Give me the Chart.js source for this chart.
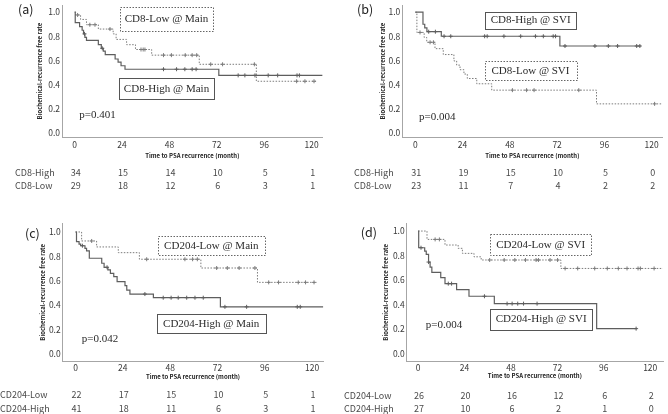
<!DOCTYPE html>
<html><head><meta charset="utf-8">
<script src="https://cdn.jsdelivr.net/npm/chart.js@4.4.1/dist/chart.umd.min.js"></script>
<style>
html,body{margin:0;padding:0;background:#fff;}
#wrap{position:relative;width:668px;height:414px;overflow:hidden;background:#fff;}
canvas{position:absolute;}
</style></head><body>
<div id="wrap">
<canvas id="ca" width="334" height="207" style="left:0;top:0"></canvas>
<canvas id="cb" width="334" height="207" style="left:334px;top:0"></canvas>
<canvas id="cc" width="334" height="207" style="left:0;top:207px"></canvas>
<canvas id="cd" width="334" height="207" style="left:334px;top:207px"></canvas>
</div>
<script>
// ---------- shared tick labels ----------
const xTicks = [0, 24, 48, 72, 96, 120];
const yTicks = [0, 0.2, 0.4, 0.6, 0.8, 1.0];
const xTitle = 'Time to PSA recurrence (month)';
const yTitle = 'Biochemical-recurrence free rate';

// ---------- panel (a) ----------
const aHighT = [0, 0.3, 2.5, 3.8, 4.5, 5.2, 6, 12, 13.5, 14.5, 15.5, 20.5, 22, 23.5, 25.5, 73, 125.5];
const aHighS = [1.0, 0.914, 0.88, 0.85, 0.82, 0.79, 0.766, 0.73, 0.70, 0.676, 0.648, 0.611, 0.585, 0.555, 0.526, 0.475, 0.475];
const aHighC = [5, 14, 45, 51.6, 55.8, 59.5, 61.5, 82.8, 86.2, 91.3, 98, 102.8, 112.6, 113.8];
const aLowT = [0, 0.5, 3, 6, 12, 19.5, 21, 26.3, 30.8, 39, 63.1, 92, 123];
const aLowS = [1.0, 0.977, 0.94, 0.896, 0.86, 0.82, 0.774, 0.73, 0.69, 0.643, 0.567, 0.426, 0.426];
const aLowC = [1.5, 7.7, 10.3, 17.9, 33.6, 34.7, 35.6, 45, 49, 56, 59.5, 61.8, 68.9, 74.9, 91, 112.4, 116.6, 121.2];
const aRiskNames = ['CD8-High', 'CD8-Low'];
const aRiskHigh = [34, 15, 14, 10, 5, 1];
const aRiskLow = [29, 18, 12, 6, 3, 1];

// ---------- panel (b) ----------
const bHighT = [0, 3.9, 4.8, 5.9, 13.2, 73.4, 114.5];
const bHighS = [1.0, 0.90, 0.87, 0.838, 0.80, 0.719, 0.719];
const bHighC = [6.8, 10.2, 14.6, 18, 35.2, 36.5, 45, 53.5, 61, 65, 70, 71.2, 76, 91.2, 98, 102.7, 112.4, 114];
const bLowT = [0, 0.8, 4.5, 5.8, 10, 14.2, 19.6, 21, 22.7, 24.7, 26.4, 31.2, 38.8, 92, 125.5];
const bLowS = [1.0, 0.832, 0.79, 0.75, 0.697, 0.648, 0.595, 0.56, 0.522, 0.486, 0.449, 0.405, 0.352, 0.238, 0.238];
const bLowC = [2.4, 7.5, 9.2, 49.3, 56.5, 60.3, 83, 121.5];
const bRiskNames = ['CD8-High', 'CD8-Low'];
const bRiskHigh = [31, 19, 15, 10, 5, 0];
const bRiskLow = [23, 11, 7, 4, 2, 2];

// ---------- panel (c) ----------
const cHighT = [0, 0.5, 1.8, 2.6, 4.8, 5.6, 7, 13.3, 14.5, 16.4, 17.7, 19.4, 21.1, 25.1, 26, 27.6, 39.5, 73.5, 125.7];
const cHighS = [1.0, 0.92, 0.90, 0.887, 0.866, 0.844, 0.784, 0.743, 0.71, 0.688, 0.66, 0.633, 0.592, 0.559, 0.523, 0.49, 0.46, 0.385, 0.385];
const cHighC = [3.5, 16, 35.2, 44.5, 48.5, 52.1, 56.4, 60.6, 64.8, 75.8, 86.8, 112.5, 114];
const cLowT = [0, 3.1, 10.7, 21.7, 32.4, 63.6, 92.3, 122.3];
const cLowS = [1.0, 0.926, 0.877, 0.83, 0.776, 0.704, 0.586, 0.586];
const cLowC = [8.2, 36.1, 55.5, 59.4, 61.8, 71.6, 77, 83, 91, 98, 103, 113, 116.7, 121];
const cRiskNames = ['CD204-Low', 'CD204-High'];
const cRiskLow = [22, 17, 15, 10, 5, 1];
const cRiskHigh = [41, 18, 11, 6, 3, 1];

// ---------- panel (d) ----------
const dHighT = [0, 0.3, 3.4, 4.2, 5.4, 6.2, 7.1, 11.7, 13.9, 19.9, 26.3, 39.4, 92.3, 113];
const dHighS = [1.0, 0.864, 0.837, 0.81, 0.747, 0.706, 0.663, 0.62, 0.571, 0.522, 0.468, 0.408, 0.204, 0.204];
const dHighC = [1.5, 5.4, 15.6, 17.3, 34.3, 46, 48.6, 51.5, 54.5, 61.5, 112.7];
const dLowT = [0, 4.6, 13.9, 20.7, 22.9, 28.9, 32.6, 73.8, 126.5];
const dLowS = [1.0, 0.932, 0.886, 0.859, 0.818, 0.79, 0.764, 0.695, 0.695];
const dLowC = [8.8, 11, 37, 44.5, 50, 55.5, 61, 62.2, 68.2, 72.1, 76, 82.5, 91.3, 97.8, 103.5, 108, 113.7, 114.9, 122];
const dRiskNames = ['CD204-Low', 'CD204-High'];
const dRiskLow = [26, 20, 16, 12, 6, 2];
const dRiskHigh = [27, 10, 6, 2, 1, 0];

// ---------- styling ----------
const SANS = "'Noto Sans CJK JP', 'Noto Sans', sans-serif";
const SERIF = "'Liberation Serif', 'DejaVu Serif', serif";
const SOLID = '#5e5e5e';
const DOT = '#7c7c7c';
const AXIS = '#a6a6a6';
const TXT = '#3a3a3a';

function stepPts(T, S) { return T.map((t, i) => ({x: t, y: S[i]})); }
function censPts(T, S, C) {
  return C.map(c => { let v = S[0]; for (let i = 0; i < T.length; i++) { if (T[i] <= c) v = S[i]; } return {x: c, y: v}; });
}

const panels = [
  {id: 'ca', label: '(a)', labelPos: [18, 9], area: {l: 62, t: 2, r: 322.7, b: 137.3},
   xr: [-6.4, 125.6], yr: [-0.04, 1.06], yTitleX: 40, xTitleY: 155.7,
   solid: [aHighT, aHighS, aHighC], dot: [aLowT, aLowS, aLowC],
   boxes: [{text: 'CD8-Low @ Main', x: 120, y: 6.7, w: 93, h: 24, dashed: true},
           {text: 'CD8-High @ Main', x: 119, y: 77.7, w: 95, h: 21.3, dashed: false}],
   p: {text: 'p=0.401', x: 79.3, y: 115},
   riskX: 15, rows: [[aRiskNames[0], aRiskHigh, 172.3], [aRiskNames[1], aRiskLow, 185.3]]},
  {id: 'cb', label: '(b)', labelPos: [23, 9], area: {l: 68.3, t: 2, r: 328.3, b: 137.3},
   xr: [-6.6, 125.4], yr: [-0.04, 1.06], yTitleX: 48.3, xTitleY: 155.7,
   solid: [bHighT, bHighS, bHighC], dot: [bLowT, bLowS, bLowC],
   boxes: [{text: 'CD8-High @ SVI', x: 151, y: 11.7, w: 91.3, h: 16.7, dashed: false},
           {text: 'CD8-Low @ SVI', x: 150.7, y: 60.7, w: 91.6, h: 19.3, dashed: true}],
   p: {text: 'p=0.004', x: 85, y: 116.7},
   riskX: 20, rows: [[bRiskNames[0], bRiskHigh, 172.3], [bRiskNames[1], bRiskLow, 185.3]]},
  {id: 'cc', label: '(c)', labelPos: [25, 26.7], area: {l: 62.7, t: 16.7, r: 323.3, b: 154},
   xr: [-6.5, 125.7], yr: [-0.06, 1.068], yTitleX: 42.7, xTitleY: 169.5,
   solid: [cHighT, cHighS, cHighC], dot: [cLowT, cLowS, cLowC],
   boxes: [{text: 'CD204-Low @ Main', x: 157.7, y: 29.3, w: 107.3, h: 19, dashed: true},
           {text: 'CD204-High @ Main', x: 156.7, y: 106.7, w: 109, h: 19.3, dashed: false}],
   p: {text: 'p=0.042', x: 81.7, y: 131.7},
   riskX: 0, rows: [[cRiskNames[0], cRiskLow, 187.7], [cRiskNames[1], cRiskHigh, 201.7]]},
  {id: 'cd', label: '(d)', labelPos: [26.7, 25], area: {l: 72.7, t: 16.7, r: 333, b: 154},
   xr: [-5.9, 126.6], yr: [-0.06, 1.06], yTitleX: 51.7, xTitleY: 169,
   solid: [dHighT, dHighS, dHighC], dot: [dLowT, dLowS, dLowC],
   boxes: [{text: 'CD204-Low @ SVI', x: 156, y: 26.7, w: 101.3, h: 21, dashed: true},
           {text: 'CD204-High @ SVI', x: 156, y: 101.7, w: 102.3, h: 20.6, dashed: false}],
   p: {text: 'p=0.004', x: 91.7, y: 118.3},
   riskX: 10, rows: [[dRiskNames[0], dRiskLow, 188.3], [dRiskNames[1], dRiskHigh, 201.7]]}
];

function textPlugin(cfg) {
  return {
    id: 'panelText',
    afterDraw(chart) {
      const c = chart.ctx;
      const xs = chart.scales.x;
      c.save();
      // panel label
      c.fillStyle = '#222';
      c.font = '12.5px ' + SANS;
      c.textAlign = 'left';
      c.textBaseline = 'middle';
      c.fillText(cfg.label, cfg.labelPos[0], cfg.labelPos[1]);
      // annotation boxes
      for (const b of cfg.boxes) {
        c.fillStyle = '#fff';
        c.fillRect(b.x, b.y, b.w, b.h);
        c.strokeStyle = b.dashed ? '#666' : '#555';
        c.lineWidth = 1;
        c.setLineDash(b.dashed ? [1.5, 1.5] : []);
        c.strokeRect(Math.round(b.x) + 0.5, Math.round(b.y) + 0.5, Math.round(b.w), Math.round(b.h));
        c.setLineDash([]);
        c.fillStyle = '#2a2a2a';
        c.font = '11px ' + SERIF;
        c.textAlign = 'center';
        c.textBaseline = 'middle';
        c.fillText(b.text, b.x + b.w / 2, b.y + b.h / 2 + 0.5);
      }
      // p value
      c.fillStyle = '#2a2a2a';
      c.font = '11px ' + SERIF;
      c.textAlign = 'left';
      c.fillText(cfg.p.text, cfg.p.x, cfg.p.y);
      // number-at-risk table
      c.fillStyle = '#4a4a4a';
      c.font = '9px ' + SANS;
      for (const row of cfg.rows) {
        c.textAlign = 'left';
        c.fillText(row[0], cfg.riskX, row[2]);
        c.textAlign = 'center';
        row[1].forEach((n, i) => c.fillText(String(n), xs.getPixelForValue(xTicks[i]) + 1, row[2]));
      }
      c.restore();
    }
  };
}

for (const cfg of panels) {
  const W = 334, H = 207, A = cfg.area;
  const hX = cfg.xTitleY - A.b + 3.6;
  new Chart(document.getElementById(cfg.id), {
    type: 'line',
    data: {
      datasets: [
        {data: stepPts(cfg.solid[0], cfg.solid[1]), borderColor: SOLID, borderWidth: 1.2, stepped: true, pointRadius: 0, fill: false},
        {data: stepPts(cfg.dot[0], cfg.dot[1]), borderColor: DOT, borderWidth: 1, borderDash: [1.5, 1.5], stepped: true, pointRadius: 0, fill: false},
        {data: censPts(cfg.solid[0], cfg.solid[1], cfg.solid[2]), showLine: false, pointStyle: 'cross', pointRadius: 2, pointBorderWidth: 1, borderColor: SOLID, pointBorderColor: SOLID},
        {data: censPts(cfg.dot[0], cfg.dot[1], cfg.dot[2]), showLine: false, pointStyle: 'cross', pointRadius: 2, pointBorderWidth: 1, borderColor: DOT, pointBorderColor: DOT}
      ]
    },
    options: {
      responsive: false, animation: false, devicePixelRatio: 1,
      layout: {padding: {left: 0, top: A.t, right: W - A.r, bottom: H - A.b - hX}},
      plugins: {legend: {display: false}, tooltip: {enabled: false}},
      scales: {
        x: {
          type: 'linear', min: cfg.xr[0], max: cfg.xr[1],
          grid: {display: false, drawTicks: false},
          border: {display: true, color: AXIS, width: 1},
          afterBuildTicks: s => { s.ticks = xTicks.map(v => ({value: v})); },
          afterFit: s => { s.height = hX; s.paddingLeft = 0; s.paddingRight = 0; },
          ticks: {color: TXT, font: {family: SANS, size: 8.5}, padding: 2, maxRotation: 0, autoSkip: false, callback: v => String(v)},
          title: {display: true, text: xTitle, color: '#222', font: {family: SANS, size: 6, weight: 'bold'}, padding: 0}
        },
        y: {
          type: 'linear', min: cfg.yr[0], max: cfg.yr[1],
          grid: {display: false, drawTicks: false},
          border: {display: true, color: AXIS, width: 1},
          afterBuildTicks: s => { s.ticks = yTicks.map(v => ({value: v})); },
          afterFit: s => { s.width = A.l; s.paddingTop = 0; s.paddingBottom = 0; },
          ticks: {color: TXT, font: {family: SANS, size: 8.5}, padding: 2, autoSkip: false, callback: v => Number(v).toFixed(1)},
          title: {display: true, text: yTitle, color: '#222', font: {family: SANS, size: 6, weight: 'bold'}, padding: {top: cfg.yTitleX - 3.6, bottom: 0}}
        }
      }
    },
    plugins: [textPlugin(cfg)]
  });
}
</script>
</body></html>
